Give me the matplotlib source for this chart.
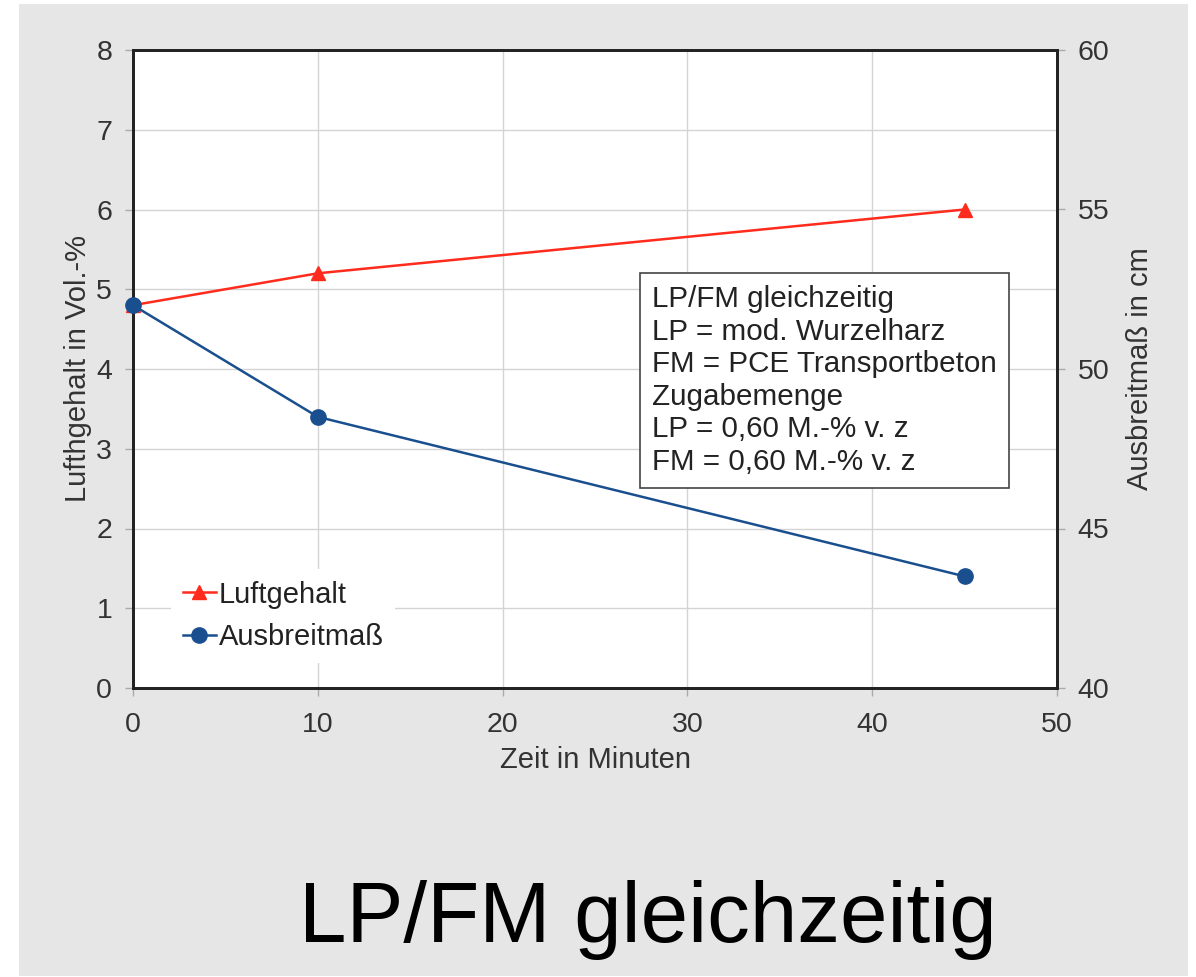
import matplotlib
matplotlib.use("Agg")
import matplotlib.pyplot as plt
from matplotlib.patches import Rectangle

plt.rcParams['font.family'] = ['Liberation Sans', 'DejaVu Sans']

# Data
zeit = [0, 10, 45]
luftgehalt = [4.8, 5.2, 6.0]
ausbreitmass = [52.0, 48.5, 43.5]
x_ticks = [0, 10, 20, 30, 40, 50]
y_left_ticks = [0, 1, 2, 3, 4, 5, 6, 7, 8]
y_right_ticks = [40, 45, 50, 55, 60]
info_lines = ["LP/FM gleichzeitig", "LP = mod. Wurzelharz", "FM = PCE Transportbeton",
              "Zugabemenge", "LP = 0,60 M.-% v. z", "FM = 0,60 M.-% v. z"]

W, H = 1196, 977
fig = plt.figure(figsize=(W / 100, H / 100), dpi=100, facecolor='white')
fig.patches.append(Rectangle((19 / W, 1 / H), (1188 - 19) / W, (976 - 4) / H,
                             transform=fig.transFigure, facecolor='#e6e6e6',
                             edgecolor='none', zorder=-10))

ax = fig.add_axes([133 / W, 1 - 688 / H, (1057 - 133) / W, (688 - 50) / H])
ax.set_facecolor('white')
red = '#ff2b1c'
blue = '#1a4f8f'
l1, = ax.plot(zeit, luftgehalt, color=red, lw=1.8, marker='^', markersize=10,
              label='Luftgehalt', clip_on=False, zorder=3)
ax.set_xlim(0, 50)
ax.set_ylim(0, 8)
ax.set_xticks(x_ticks)
ax.set_yticks(y_left_ticks)
ax.grid(True, color='#d4d4d4', lw=1.0)
ax.set_axisbelow(True)

ax2 = ax.twinx()
l2, = ax2.plot(zeit, ausbreitmass, color=blue, lw=1.8, marker='o', markersize=11,
               label='Ausbreitmaß', clip_on=False, zorder=3)
ax2.set_ylim(40, 60)
ax2.set_yticks(y_right_ticks)

for a in (ax, ax2):
    for s in a.spines.values():
        s.set_color('#222222')
        s.set_linewidth(2.0)
    a.tick_params(labelsize=20.5, colors='#333333', length=6, width=1, direction='out',
                  pad=9)
    a.tick_params(axis='both', color='#aaaaaa')
ax.tick_params(axis='x', pad=11)

ax.set_xlabel('Zeit in Minuten', fontsize=21, color='#333333', labelpad=6)
ax.set_ylabel('Lufthgehalt in Vol.-%', fontsize=21, color='#333333', labelpad=3)
ax2.set_ylabel('Ausbreitmaß in cm', fontsize=21, color='#333333', labelpad=12)

leg = ax2.legend([l1, l2], ['Luftgehalt', 'Ausbreitmaß'], loc='lower left',
                 bbox_to_anchor=(0.0255, 0.0165), fontsize=21, frameon=True,
                 facecolor='white', edgecolor='none', framealpha=1.0,
                 handlelength=1.13, handletextpad=0.1, labelspacing=0.5,
                 borderpad=0.4, labelcolor='#222222')

ax2.text((652 - 133) / 924, (688 - 285) / 638, "\n".join(info_lines),
         transform=ax2.transAxes,
         fontsize=21.3, color='#222222', linespacing=1.21, va='top', ha='left',
         bbox=dict(boxstyle='square,pad=0.4', facecolor='white', edgecolor='#444444',
                   linewidth=1.2), zorder=5)

fig.text(648 / W, 1 - 942 / H, 'LP/FM gleichzeitig', fontsize=61.5, color='black',
         ha='center', va='baseline')

fig.savefig('out.png', dpi=100, facecolor=fig.get_facecolor())
